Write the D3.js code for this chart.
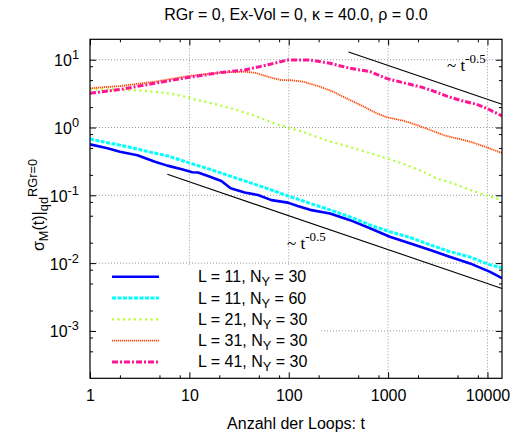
<!DOCTYPE html>
<html>
<head>
<meta charset="utf-8">
<script src="https://cdn.jsdelivr.net/npm/d3@7/dist/d3.min.js"></script>
<style>
  body { margin: 0; background: #fff; }
  text { font-family: "Liberation Sans", Arial, sans-serif; fill: #000; }
</style>
</head>
<body>
<svg id="chart" width="516" height="439"></svg>
<script>
// ---- data: sigma_M(t) vs number of loops t ----
const tL11N30 = [1, 1.5, 2, 3, 4.5, 6, 8.4, 10.7, 12.2, 15.4, 21, 26, 36, 49, 67, 98, 123, 164, 260, 414, 657, 1040, 1650, 2650, 4160, 6660, 10500, 14000];
const vL11N30 = [0.565, 0.493, 0.44, 0.39, 0.313, 0.274, 0.242, 0.219, 0.217, 0.193, 0.163, 0.127, 0.11, 0.101, 0.085, 0.078, 0.0695, 0.061, 0.054, 0.043, 0.0326, 0.0245, 0.0196, 0.0156, 0.0124, 0.0099, 0.0075, 0.006];

const tL11N60 = [1, 1.5, 2.4, 3.85, 6.1, 9.8, 15.4, 24.5, 39, 62, 98, 123, 164, 260, 414, 657, 1040, 1650, 2650, 4160, 6660, 10500, 14000];
const vL11N60 = [0.678, 0.597, 0.52, 0.44, 0.38, 0.303, 0.247, 0.197, 0.157, 0.125, 0.098, 0.088, 0.076, 0.061, 0.048, 0.0365, 0.029, 0.024, 0.0186, 0.0148, 0.0123, 0.0095, 0.0085];

const tL21N30 = [1, 1.5, 2.4, 3.85, 6.1, 8.4, 11.3, 18, 28.5, 45.5, 72, 98, 140, 190, 260, 355, 522, 770, 1040, 1530, 2250, 3060, 4500, 6660, 9850, 14000];
const vL21N30 = [3.66, 3.66, 3.57, 3.44, 3.2, 2.93, 2.6, 2.22, 1.85, 1.49, 1.14, 1.0, 0.86, 0.73, 0.62, 0.55, 0.466, 0.39, 0.34, 0.28, 0.223, 0.178, 0.15, 0.12, 0.099, 0.085];

const tL31N30 = [1, 2.07, 4.48, 9.9, 21, 36, 45.5, 62, 84, 103, 140, 205, 280, 380, 522, 770, 960, 1420, 1940, 2650, 3600, 4920, 6660, 9850, 14000];
const vL31N30 = [3.79, 4.1, 4.74, 5.75, 6.5, 6.66, 6.43, 5.6, 5.0, 5.0, 4.74, 4.0, 3.37, 2.7, 2.16, 1.62, 1.42, 1.26, 1.09, 0.92, 0.775, 0.69, 0.62, 0.51, 0.42];

const tL41N30 = [1, 2.06, 4.48, 9.9, 21, 36, 62, 98, 164, 260, 414, 657, 960, 1420, 2090, 2860, 3900, 5700, 7780, 9850, 14000];
const vL41N30 = [3.19, 3.66, 4.49, 5.5, 6.5, 7.05, 8.45, 9.9, 9.9, 8.85, 7.47, 6.66, 5.3, 4.58, 4.0, 3.45, 2.9, 2.45, 2.2, 1.92, 1.48];

// power-law guides  ~ C * t^-0.5
const guideUpperT = [400, 14000];
const guideUpperC = 260;
const guideLowerT = [6, 14000];
const guideLowerC = 0.5;
const guideExponent = -0.5;

const xTicks = [1, 10, 100, 1000, 10000];
const xTickLabels = ["1", "10", "100", "1000", "10000"];
const yTicks = [10, 1, 0.1, 0.01, 0.001];
const yTickExponents = ["1", "0", "-1", "-2", "-3"];
const minorMantissas = [2, 5, 8];

const legendLabels = [["L = 11, N", "Y", " = 30"], ["L = 11, N", "Y", " = 60"], ["L = 21, N", "Y", " = 30"], ["L = 31, N", "Y", " = 30"], ["L = 41, N", "Y", " = 30"]];

// ---- layout ----
const svg = d3.select("#chart");
const M = { left: 90, right: 502, top: 39.3, bottom: 378.3 };
const x = d3.scaleLog().domain([1, 14000]).range([M.left, M.right]);
const y = d3.scaleLog().domain([2e-4, 20]).range([M.bottom, M.top]);

const series = [
  { t: tL11N30, v: vL11N30, color: "#0000ff", width: 2.6, dash: null },
  { t: tL11N60, v: vL11N60, color: "#00ffff", width: 3, dash: "4,1.5" },
  { t: tL21N30, v: vL21N30, color: "#adff2f", width: 2.2, dash: "2,3.5" },
  { t: tL31N30, v: vL31N30, color: "#ff4500", width: 1.8, dash: "1.2,0.8" },
  { t: tL41N30, v: vL41N30, color: "#ff1493", width: 3, dash: "6,2,2,2" }
];

// minor tick values between the decades
const minorX = [], minorY = [];
for (let e = 0; e <= 4; e++) minorMantissas.forEach(m => { const v = m * Math.pow(10, e); if (v < 14000) minorX.push(v); });
for (let e = -4; e <= 1; e++) minorMantissas.forEach(m => { const v = m * Math.pow(10, e); if (v > 2e-4 && v < 20) minorY.push(v); });

// ---- grid ----
const grid = svg.append("g").attr("stroke", "#999").attr("stroke-width", 1).attr("stroke-dasharray", "1,2");
grid.selectAll("line.gx").data(xTicks.filter(d => d > 1)).enter().append("line")
  .attr("x1", d => x(d)).attr("x2", d => x(d)).attr("y1", M.top).attr("y2", M.bottom);
grid.selectAll("line.gy").data(yTicks).enter().append("line")
  .attr("x1", M.left).attr("x2", M.right).attr("y1", d => y(d)).attr("y2", d => y(d));

// key background hides the grid beneath it
svg.append("rect").attr("x", M.left + 1).attr("y", 265).attr("width", 230).attr("height", M.bottom - 265 - 0.5).attr("fill", "#fff");

// ---- guides ----
const gLine = d3.line().x(d => x(d[0])).y(d => y(d[1]));
[[guideUpperT, guideUpperC], [guideLowerT, guideLowerC]].forEach(([ts, c]) => {
  svg.append("path").datum(ts.map(t => [t, c * Math.pow(t, guideExponent)]))
    .attr("d", gLine).attr("fill", "none").attr("stroke", "#000").attr("stroke-width", 1.1);
});

// ---- curves ----
svg.append("clipPath").attr("id", "plotclip").append("rect")
  .attr("x", M.left).attr("y", M.top).attr("width", M.right - M.left).attr("height", M.bottom - M.top);
series.forEach(s => {
  svg.append("path").datum(s.t.map((t, i) => [t, s.v[i]]))
    .attr("clip-path", "url(#plotclip)")
    .attr("d", gLine).attr("fill", "none").attr("stroke", s.color)
    .attr("stroke-width", s.width).attr("stroke-dasharray", s.dash)
    .attr("stroke-linejoin", "round");
});

// ---- axes (ticks point inward, mirrored on top/right) ----
function styleAxis(g) { g.select(".domain").remove(); g.selectAll(".tick line").attr("stroke", "#000"); }
const fs = 16;
svg.append("g").attr("transform", `translate(0,${M.bottom})`)
  .call(d3.axisBottom(x).tickValues(xTicks).tickSize(-6).tickPadding(11).tickFormat((d, i) => xTickLabels[i]))
  .call(styleAxis)
  .call(g => g.selectAll("text").attr("font-size", fs).attr("font-family", "Liberation Sans, Arial, sans-serif").attr("fill", "#000").attr("dy", "0.75em"));
svg.append("g").attr("transform", `translate(0,${M.bottom})`).call(d3.axisBottom(x).tickValues(minorX).tickSize(-3).tickFormat("")).call(styleAxis);
svg.append("g").attr("transform", `translate(0,${M.top})`).call(d3.axisTop(x).tickValues(xTicks).tickSize(-6).tickFormat("")).call(styleAxis);
svg.append("g").attr("transform", `translate(0,${M.top})`).call(d3.axisTop(x).tickValues(minorX).tickSize(-3).tickFormat("")).call(styleAxis);

const yAx = svg.append("g").attr("transform", `translate(${M.left},0)`)
  .call(d3.axisLeft(y).tickValues(yTicks).tickSize(-6).tickPadding(11).tickFormat(""))
  .call(styleAxis);
yAx.selectAll(".tick").append("text")
  .attr("x", -11).attr("y", 6).attr("text-anchor", "end").attr("font-size", fs)
  .each(function (d, i) {
    const t = d3.select(this);
    t.append("tspan").text("10");
    t.append("tspan").attr("font-size", fs * 0.8).attr("dy", -7).text(yTickExponents[i]);
  });
svg.append("g").attr("transform", `translate(${M.left},0)`).call(d3.axisLeft(y).tickValues(minorY).tickSize(-3).tickFormat("")).call(styleAxis);
svg.append("g").attr("transform", `translate(${M.right},0)`).call(d3.axisRight(y).tickValues(yTicks).tickSize(-6).tickFormat("")).call(styleAxis);
svg.append("g").attr("transform", `translate(${M.right},0)`).call(d3.axisRight(y).tickValues(minorY).tickSize(-3).tickFormat("")).call(styleAxis);

svg.append("rect").attr("x", M.left).attr("y", M.top).attr("width", M.right - M.left).attr("height", M.bottom - M.top)
  .attr("fill", "none").attr("stroke", "#000").attr("stroke-width", 1.2);

// ---- guide labels ----
function powerLabel(px, py) {
  const t = svg.append("text").attr("x", px).attr("y", py).attr("font-size", 17)
    .style("font-family", "'Liberation Serif', 'Times New Roman', serif");
  t.append("tspan").text("~ t");
  t.append("tspan").attr("font-size", 13).attr("dy", -8).text("-0.5");
}
powerLabel(447, 71);
powerLabel(287, 249);

// ---- key ----
const key = svg.append("g");
legendLabels.forEach((lab, i) => {
  const s = series[i];
  const cy = 276.7 + i * 21.3;
  key.append("line").attr("x1", 112).attr("x2", 159).attr("y1", cy).attr("y2", cy)
    .attr("stroke", s.color).attr("stroke-width", s.width).attr("stroke-dasharray", s.dash);
  const t = key.append("text").attr("x", 198).attr("y", cy + 5.5).attr("font-size", fs);
  t.append("tspan").text(lab[0]);
  t.append("tspan").attr("font-size", fs * 0.8).attr("dy", 4).text(lab[1]);
  t.append("tspan").attr("dy", -4).text(lab[2]);
});

// ---- titles ----
svg.append("text").attr("x", 296).attr("y", 20).attr("text-anchor", "middle").attr("font-size", fs)
  .text("RGr = 0, Ex-Vol = 0, κ = 40.0, ρ = 0.0");
svg.append("text").attr("x", 296).attr("y", 429).attr("text-anchor", "middle").attr("font-size", fs)
  .text("Anzahl der Loops: t");
const yl = svg.append("text").attr("transform", "translate(44,205) rotate(-90)").attr("text-anchor", "middle").attr("font-size", fs);
yl.append("tspan").text("σ");
yl.append("tspan").attr("font-size", fs * 0.8).attr("dy", 4).text("M");
yl.append("tspan").attr("dy", -4).text("(t)|");
yl.append("tspan").attr("font-size", fs * 0.8).attr("dy", 4).text("qd");
yl.append("tspan").attr("font-size", fs * 0.8).attr("dy", -11).text("RGr=0");
</script>
</body>
</html>
